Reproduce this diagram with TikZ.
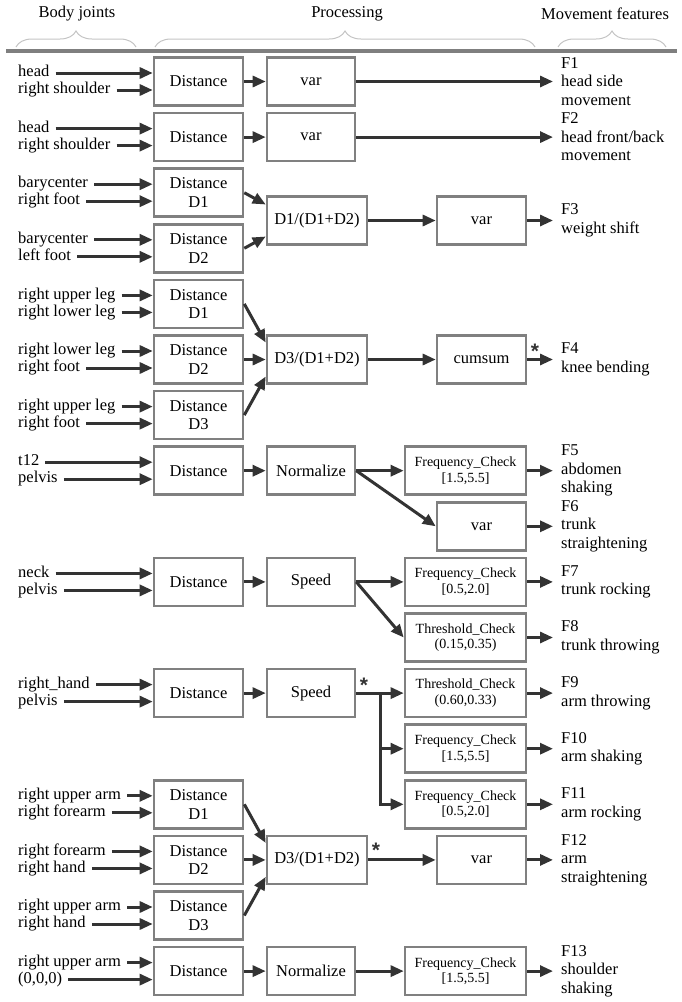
\documentclass[tikz,border=0pt]{standalone}
\usepackage{fontspec}
\setmainfont{Liberation Serif}
\newfontfamily\starfont{Liberation Sans}
\usetikzlibrary{arrows.meta,decorations.pathreplacing,calc}
\definecolor{boxgray}{HTML}{808080}
\definecolor{arrdark}{HTML}{333333}
\definecolor{bracegray}{HTML}{C4C4C4}
\definecolor{rulegray}{HTML}{7F7F7F}
\newcommand{\fsN}{\fontsize{16.5}{18.5}\selectfont}
\newcommand{\fsS}{\fontsize{14}{15.5}\selectfont}
\newcommand{\jp}[4]{%
  \node[jlbl] (#1a) at (18,#2-8.5) {#3};
  \node[jlbl] (#1b) at (18,#2+8.5) {#4};
  \draw[arr] ($(#1a.east)+(6,0)$) -- (#1a.east -| #1.west);
  \draw[arr] ($(#1b.east)+(6,0)$) -- (#1b.east -| #1.west);
}
\begin{document}
\begin{tikzpicture}[x=1pt,y=-1pt,
  box/.style={draw=boxgray, line width=2.6pt, fill=white, minimum width=#1, minimum height=48pt, inner sep=0pt, align=center, font=\fsN},
  box/.default=89pt,
  sbox/.style={box=121pt, font=\fsS},
  jlbl/.style={anchor=west, inner sep=0pt, font=\fsN, text height=11pt, text depth=3.5pt},
  flbl/.style={anchor=west, inner xsep=8pt, inner ysep=0pt, align=left, font=\fsN},
  arr/.style={draw=arrdark, line width=3pt, -{Triangle[length=13pt,width=11pt]}},
  ln/.style={draw=arrdark, line width=3pt},
  star/.style={inner sep=0pt, text=arrdark, font=\starfont\bfseries\fontsize{21}{21}\selectfont},
  hdr/.style={font=\fsN, inner sep=0pt},
  brc/.style={draw=bracegray, line width=1pt, decorate, decoration={brace, amplitude=16pt}}
]
\useasboundingbox (0,0) rectangle (681,1002);
% header
\node[hdr] (hBJ) at (77,14) {Body joints};
\node[hdr] (hPR) at (347,14) {Processing};
\node[hdr] (hMF) at (605,14) {Movement features};
\draw[brc] (16,47) -- (136,47);
\draw[brc] (155,47) -- (535,47);
\draw[brc] (558,47) -- (666,47);
\draw[rulegray, line width=3.5pt] (6,51) -- (677,51);

% F1
\node[box] (d1) at (198.5,81.5) {Distance};
\node[box=88pt] (v1) at (311,81.5) {var};
\node[flbl] (f1) at (553,81.5) {F1\\head side\\movement};
\jp{d1}{81.5}{head}{right shoulder}
\draw[arr] (d1) -- (v1);
\draw[arr] (v1) -- (f1);

% F2
\node[box] (d2) at (198.5,137.1) {Distance};
\node[box=88pt] (v2) at (311,137.1) {var};
\node[flbl] (f2) at (553,137.1) {F2\\head front/back\\movement};
\jp{d2}{137.1}{head}{right shoulder}
\draw[arr] (d2) -- (v2);
\draw[arr] (v2) -- (f2);

% F3
\node[box] (d3a) at (198.5,192.7) {Distance\\D1};
\node[box] (d3b) at (198.5,248.3) {Distance\\D2};
\node[box=100pt] (r3) at (317,220.5) {D1/(D1+D2)};
\node[box] (v3) at (481.5,220.5) {var};
\node[flbl] (f3) at (553,220.5) {F3\\weight shift};
\jp{d3a}{192.7}{barycenter}{right foot}
\jp{d3b}{248.3}{barycenter}{left foot}
\draw[arr] (d3a.east) -- ($(r3.west)+(0,-16)$);
\draw[arr] (d3b.east) -- ($(r3.west)+(0,16)$);
\draw[arr] (r3) -- (v3);
\draw[arr] (v3) -- (f3);

% F4
\node[box] (d4a) at (198.5,303.9) {Distance\\D1};
\node[box] (d4b) at (198.5,359.5) {Distance\\D2};
\node[box] (d4c) at (198.5,415.1) {Distance\\D3};
\node[box=100pt] (r4) at (317,359.5) {D3/(D1+D2)};
\node[box] (c4) at (481.5,359.5) {cumsum};
\node[flbl] (f4) at (553,359.5) {F4\\knee bending};
\node[star] (st4) at (535,351) {*};
\jp{d4a}{303.9}{right upper leg}{right lower leg}
\jp{d4b}{359.5}{right lower leg}{right foot}
\jp{d4c}{415.1}{right upper leg}{right foot}
\draw[arr] (d4a.east) -- ($(r4.west)+(0,-17)$);
\draw[arr] (d4b) -- (r4);
\draw[arr] (d4c.east) -- ($(r4.west)+(0,17)$);
\draw[arr] (r4) -- (c4);
\draw[arr] (c4) -- (f4);

% F5 / F6
\node[box] (d5) at (198.5,470.7) {Distance};
\node[box=88pt] (n5) at (311,470.7) {Normalize};
\node[sbox] (q5) at (465.5,470.7) {Frequency\_Check\\{}[1.5,5.5]};
\node[box] (v6) at (481.5,526.3) {var};
\node[flbl] (f5) at (553,470.7) {F5\\abdomen\\shaking};
\node[flbl] (f6) at (553,526.3) {F6\\trunk\\straightening};
\jp{d5}{470.7}{t12}{pelvis}
\draw[arr] (d5) -- (n5);
\draw[arr] (n5) -- (q5);
\draw[arr] (n5.east) -- (v6.west);
\draw[arr] (q5) -- (f5);
\draw[arr] (v6) -- (f6);

% F7 / F8
\node[box] (d7) at (198.5,581.9) {Distance};
\node[box=88pt] (s7) at (311,581.9) {Speed};
\node[sbox] (q7) at (465.5,581.9) {Frequency\_Check\\{}[0.5,2.0]};
\node[sbox] (t8) at (465.5,637.5) {Threshold\_Check\\(0.15,0.35)};
\node[flbl] (f7) at (553,581.9) {F7\\trunk rocking};
\node[flbl] (f8) at (553,637.5) {F8\\trunk throwing};
\jp{d7}{581.9}{neck}{pelvis}
\draw[arr] (d7) -- (s7);
\draw[arr] (s7) -- (q7);
\draw[arr] (s7.east) -- (t8.west);
\draw[arr] (q7) -- (f7);
\draw[arr] (t8) -- (f8);

% F9 / F10 / F11
\node[box] (d9) at (198.5,693.1) {Distance};
\node[box=88pt] (s9) at (311,693.1) {Speed};
\node[sbox] (t9) at (465.5,693.1) {Threshold\_Check\\(0.60,0.33)};
\node[sbox] (q10) at (465.5,748.7) {Frequency\_Check\\{}[1.5,5.5]};
\node[sbox] (q11) at (465.5,804.3) {Frequency\_Check\\{}[0.5,2.0]};
\node[flbl] (f9) at (553,693.1) {F9\\arm throwing};
\node[flbl] (f10) at (553,748.7) {F10\\arm shaking};
\node[flbl] (f11) at (553,804.3) {F11\\arm rocking};
\node[star] (st9) at (364,685) {*};
\coordinate (j9) at (380,693.1);
\jp{d9}{693.1}{right\_hand}{pelvis}
\draw[arr] (d9) -- (s9);
\draw[ln] (s9.east) -- (j9);
\draw[arr] (j9) -- (t9.west);
\draw[arr] (j9) |- (q11.west);
\draw[arr] (j9 |- q10.west) -- (q10.west);
\draw[arr] (t9) -- (f9);
\draw[arr] (q10) -- (f10);
\draw[arr] (q11) -- (f11);

% F12
\node[box] (d12a) at (198.5,804.3) {Distance\\D1};
\node[box] (d12b) at (198.5,859.9) {Distance\\D2};
\node[box] (d12c) at (198.5,915.5) {Distance\\D3};
\node[box=100pt] (r12) at (317,859.9) {D3/(D1+D2)};
\node[box] (v12) at (481.5,859.9) {var};
\node[flbl] (f12) at (553,859.9) {F12\\arm\\straightening};
\node[star] (st12) at (376,850) {*};
\jp{d12a}{804.3}{right upper arm}{right forearm}
\jp{d12b}{859.9}{right forearm}{right hand}
\jp{d12c}{915.5}{right upper arm}{right hand}
\draw[arr] (d12a.east) -- ($(r12.west)+(0,-17)$);
\draw[arr] (d12b) -- (r12);
\draw[arr] (d12c.east) -- ($(r12.west)+(0,17)$);
\draw[arr] (r12) -- (v12);
\draw[arr] (v12) -- (f12);

% F13
\node[box] (d13) at (198.5,971.1) {Distance};
\node[box=88pt] (n13) at (311,971.1) {Normalize};
\node[sbox] (q13) at (465.5,971.1) {Frequency\_Check\\{}[1.5,5.5]};
\node[flbl] (f13) at (553,971.1) {F13\\shoulder\\shaking};
\jp{d13}{971.1}{right upper arm}{(0,0,0)}
\draw[arr] (d13) -- (n13);
\draw[arr] (n13) -- (q13);
\draw[arr] (q13) -- (f13);
\end{tikzpicture}
\end{document}
